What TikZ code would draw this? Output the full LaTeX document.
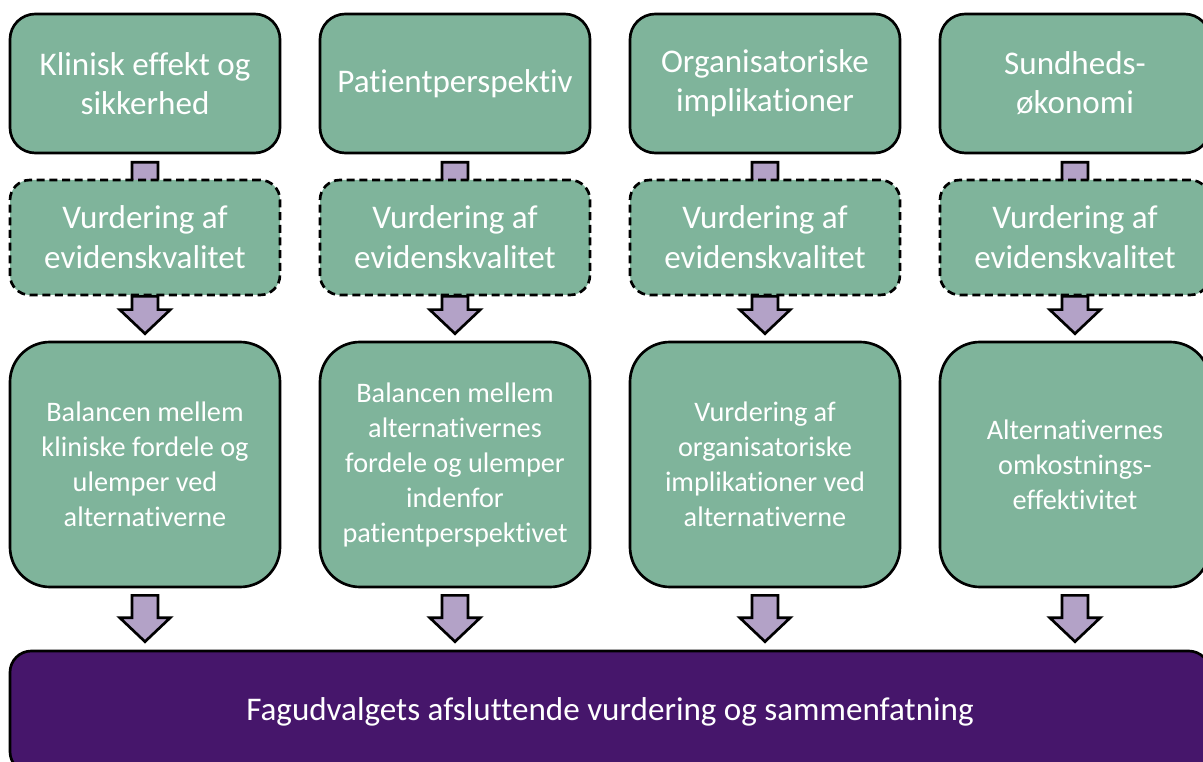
\documentclass[tikz,border=0pt]{standalone}
\usepackage{fontspec}
\setmainfont{Carlito}[Ligatures={NoCommon,TeX}]
\usetikzlibrary{calc}

\pgfdeclarelayer{bg}
\pgfsetlayers{bg,main}

\definecolor{boxgreen}{RGB}{127,180,155}
\definecolor{deeppurple}{RGB}{70,22,107}
\definecolor{lilac}{RGB}{179,162,199}

% fat down arrow from #1 to tip #2
\newcommand{\blockarrow}[2]{%
  \path[fatarrow] let \p1=(#1), \p2=(#2) in
    ({\x1-9.75pt},\y1) -- ({\x1+9.75pt},\y1) -- ({\x1+9.75pt},{\y2+18pt})
    -- ({\x1+19pt},{\y2+18pt}) -- (\x1,\y2) -- ({\x1-19pt},{\y2+18pt})
    -- ({\x1-9.75pt},{\y2+18pt}) -- cycle;}

\begin{document}
\begin{tikzpicture}[x=0.75pt, y=-0.75pt, thick]
\tikzset{
  box/.style={
    draw, line width=2pt, fill=boxgreen, text=white,
    align=center, minimum width=202.5pt
  },
  topbox/.style={
    box, rounded corners=19pt, minimum height=104.25pt,
    font=\fontsize{24.8}{29.25}\selectfont
  },
  evbox/.style={
    box, dash pattern=on 6pt off 3.5pt, rounded corners=15pt,
    minimum height=86.25pt, font=\fontsize{24.8}{30}\selectfont
  },
  midbox/.style={
    box, rounded corners=30pt, minimum height=183.75pt,
    font=\fontsize{21.2}{26.25}\selectfont
  },
  fatarrow/.style={
    draw, line width=2pt, line join=miter, fill=lilac
  }
}

\useasboundingbox (0,0) rectangle (1203,762);
\clip (0,0) rectangle (1203,762);

% Nodes
\node[topbox] (klin) at (145,  83.5) {Klinisk effekt og\\sikkerhed};
\node[topbox] (pat)  at (455,  83.5) {Patientperspektiv};
\node[topbox] (org)  at (765,  83.5) {Organisatoriske\\implikationer};
\node[topbox] (oek)  at (1075, 83.5) {Sundheds-\\økonomi};

\node[evbox] (evklin) at (145,  237.5) {Vurdering af\\evidenskvalitet};
\node[evbox] (evpat)  at (455,  237.5) {Vurdering af\\evidenskvalitet};
\node[evbox] (evorg)  at (765,  237.5) {Vurdering af\\evidenskvalitet};
\node[evbox] (evoek)  at (1075, 237.5) {Vurdering af\\evidenskvalitet};

\node[midbox] (balklin) at (145,  464.5) {Balancen mellem\\kliniske fordele og\\ulemper ved\\alternativerne};
\node[midbox] (balpat)  at (455,  464.5) {Balancen mellem\\alternativernes\\fordele og ulemper\\indenfor\\patientperspektivet};
\node[midbox] (balorg)  at (765,  464.5) {Vurdering af\\organisatoriske\\implikationer ved\\alternativerne};
\node[midbox] (baloek)  at (1075, 464.5) {Alternativernes\\omkostnings-\\effektivitet};

\node[draw, line width=2pt, fill=deeppurple, text=white, rounded corners=16pt,
      minimum width=900pt, minimum height=91.5pt,
      font=\fontsize{24.8}{29.25}\selectfont] (samlet) at (610, 712)
      {Fagudvalgets afsluttende vurdering og sammenfatning};

% Arrows behind the boxes
\begin{pgfonlayer}{bg}
\blockarrow{$(klin.south)+(0,8)$}{$(evklin.north)+(0,30)$}
\blockarrow{$(pat.south)+(0,8)$}{$(evpat.north)+(0,30)$}
\blockarrow{$(org.south)+(0,8)$}{$(evorg.north)+(0,30)$}
\blockarrow{$(oek.south)+(0,8)$}{$(evoek.north)+(0,30)$}

\blockarrow{evklin.south}{$(balklin.north)+(0,-7)$}
\blockarrow{evpat.south}{$(balpat.north)+(0,-7)$}
\blockarrow{evorg.south}{$(balorg.north)+(0,-7)$}
\blockarrow{evoek.south}{$(baloek.north)+(0,-7)$}

\blockarrow{$(balklin.south)+(0,7)$}{$(samlet.north-|balklin)+(0,-8)$}
\blockarrow{$(balpat.south)+(0,7)$}{$(samlet.north-|balpat)+(0,-8)$}
\blockarrow{$(balorg.south)+(0,7)$}{$(samlet.north-|balorg)+(0,-8)$}
\blockarrow{$(baloek.south)+(0,7)$}{$(samlet.north-|baloek)+(0,-8)$}
\end{pgfonlayer}

\end{tikzpicture}
\end{document}
